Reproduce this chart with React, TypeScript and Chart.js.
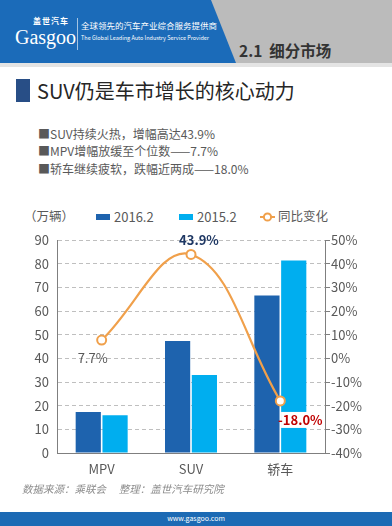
import React, { useEffect, useRef } from "react";
import { Chart, registerables } from "chart.js";

Chart.register(...registerables);

const categories = ["MPV", "SUV", "轿车"];
const sales2016 = [17.3, 47.3, 66.5];
const sales2015 = [16.0, 33.0, 81.3];
const yoyChange = [7.7, 43.9, -18.0];
const yoyLabels = ["7.7%", "43.9%", "-18.0%"];
const seriesNames = ["2016.2", "2015.2", "同比变化"];
const bullets = [
  "■SUV持续火热，增幅高达43.9%",
  "■MPV增幅放缓至个位数——7.7%",
  "■轿车继续疲软，跌幅近两成——18.0%",
];

const FONT = '"Noto Sans CJK SC", "Noto Sans", sans-serif';
const DARK = "#1E63AE";
const LIGHT = "#00AEEF";
const ORANGE = "#F0A04B";

const labelPlugin = {
  id: "yoyLabels",
  afterDatasetsDraw(chart: any) {
    const meta = chart.getDatasetMeta(2);
    const ctx = chart.ctx;
    const styles = [
      { dx: -9, dy: 18, color: "#595959", bold: false, bg: false },
      { dx: 8, dy: -14, color: "#1F3864", bold: true, bg: false },
      { dx: 20, dy: 19, color: "#C00000", bold: true, bg: true },
    ];
    meta.data.forEach((pt: any, i: number) => {
      const s = styles[i];
      const x = pt.x + s.dx;
      const y = pt.y + s.dy;
      ctx.save();
      ctx.font = `${s.bold ? "bold " : ""}13px ${FONT}`;
      ctx.textAlign = "center";
      ctx.textBaseline = "middle";
      const w = ctx.measureText(yoyLabels[i]).width;
      if (s.bg) {
        ctx.fillStyle = "#ffffff";
        ctx.fillRect(x - w / 2 + 3, y - 8, w - 2, 16);
      }
      ctx.fillStyle = s.color;
      ctx.fillText(yoyLabels[i], x, y);
      ctx.restore();
    });
  },
};

function ChartBox() {
  const ref = useRef<HTMLCanvasElement>(null);
  useEffect(() => {
    if (!ref.current) return;
    const chart = new Chart(ref.current, {
      type: "bar",
      data: {
        labels: categories,
        datasets: [
          {
            type: "bar",
            label: seriesNames[0],
            data: sales2016,
            backgroundColor: DARK,
            yAxisID: "y",
            order: 2,
            categoryPercentage: 0.6,
            barPercentage: 0.94,
          },
          {
            type: "bar",
            label: seriesNames[1],
            data: sales2015,
            backgroundColor: LIGHT,
            yAxisID: "y",
            order: 2,
            categoryPercentage: 0.6,
            barPercentage: 0.94,
          },
          {
            type: "line",
            label: seriesNames[2],
            data: yoyChange,
            borderColor: ORANGE,
            borderWidth: 2.2,
            tension: 0.4,
            pointRadius: 4.5,
            pointBorderWidth: 2,
            pointBackgroundColor: "#ffffff",
            pointBorderColor: ORANGE,
            yAxisID: "y1",
            order: 0,
          } as any,
        ],
      },
      options: {
        responsive: false,
        animation: false,
        devicePixelRatio: 1,
        layout: { padding: { top: 40, left: 0, right: 0, bottom: 0 } },
        plugins: { legend: { display: false }, tooltip: { enabled: false } },
        scales: {
          x: {
            grid: { display: false, drawTicks: false },
            border: { display: true, color: "#7F7F7F", width: 1 },
            ticks: { color: "#595959", font: { size: 13, family: FONT }, padding: 8 },
            afterFit: (s: any) => {
              s.height = 47;
            },
          },
          y: {
            position: "left",
            min: 0,
            max: 90,
            ticks: { stepSize: 10, color: "#595959", font: { size: 13, family: FONT }, padding: 8 },
            grid: { color: "#BFBFBF", drawTicks: false, lineWidth: 1 },
            border: { display: true, color: "#7F7F7F", dash: [4, 3] },
            afterFit: (s: any) => {
              s.width = 57;
            },
          },
          y1: {
            position: "right",
            min: -40,
            max: 50,
            ticks: {
              stepSize: 10,
              color: "#595959",
              font: { size: 13, family: FONT },
              padding: 1,
              callback: (v: any) => v + "%",
            },
            grid: { drawOnChartArea: false, drawTicks: true, tickLength: 5, color: "#7F7F7F" },
            border: { display: true, color: "#7F7F7F" },
            afterFit: (s: any) => {
              s.width = 67;
            },
          },
        },
      } as any,
      plugins: [labelPlugin],
    });
    return () => chart.destroy();
  }, []);
  return (
    <canvas
      ref={ref}
      width={392}
      height={300}
      style={{ position: "absolute", left: 0, top: 200, width: 392, height: 300 }}
    />
  );
}

export default function App() {
  const txt = (style: any, content: string) => (
    <div style={{ position: "absolute", whiteSpace: "pre", lineHeight: 1, ...style }}>{content}</div>
  );
  return (
    <div
      style={{
        position: "fixed",
        left: 0,
        top: 0,
        width: 392,
        height: 526,
        overflow: "hidden",
        background: "#ffffff",
        fontFamily: FONT,
      }}
    >
      {/* header */}
      <div style={{ position: "absolute", left: 0, top: 0, width: 392, height: 63, background: "#BBBBBB" }} />
      <svg width={392} height={63} style={{ position: "absolute", left: 0, top: 0 }}>
        <polygon points="0,0 211,0 236,63 0,63" fill="#1B6BB9" />
      </svg>
      <div style={{ position: "absolute", left: 0, top: 63, width: 392, height: 4, background: "#E4E4E4" }} />
      {txt({ left: 33, top: 17, fontSize: 8, color: "#fff", fontWeight: "bold", letterSpacing: 1 }, "盖世汽车")}
      {txt({ left: 15, top: 27, fontSize: 20, color: "#fff", fontFamily: '"Liberation Serif", serif' }, "Gasgoo")}
      <div style={{ position: "absolute", left: 77, top: 18, width: 1, height: 32, background: "rgba(255,255,255,0.6)" }} />
      {txt({ left: 81, top: 21, fontSize: 8.5, color: "#fff" }, "全球领先的汽车产业综合服务提供商")}
      {txt({ left: 81, top: 36, fontSize: 5.5, color: "#fff" }, "The Global Leading Auto Industry Service Provider")}
      {txt({ left: 239, top: 43, fontSize: 15.5, color: "#333333", fontWeight: "bold" }, "2.1  细分市场")}

      {/* title */}
      <div style={{ position: "absolute", left: 16, top: 79, width: 14, height: 23, background: "#284E86" }} />
      {txt({ left: 37, top: 81, fontSize: 20, color: "#262626" }, "SUV仍是车市增长的核心动力")}

      {bullets.map((b, i) =>
        <React.Fragment key={i}>
          {txt({ left: 38, top: 127.5 + i * 17.5, fontSize: 12, color: "#595959" }, b)}
        </React.Fragment>
      )}

      {/* legend */}
      {txt({ left: 24, top: 210, fontSize: 12.5, color: "#595959" }, "（万辆）")}
      <div style={{ position: "absolute", left: 96, top: 214, width: 14, height: 6, background: DARK }} />
      {txt({ left: 114, top: 210, fontSize: 13, color: "#595959" }, seriesNames[0])}
      <div style={{ position: "absolute", left: 179, top: 214, width: 14, height: 6, background: LIGHT }} />
      {txt({ left: 197, top: 210, fontSize: 13, color: "#595959" }, seriesNames[1])}
      <svg width={16} height={12} style={{ position: "absolute", left: 260, top: 211 }}>
        <line x1={0} y1={6} x2={15} y2={6} stroke={ORANGE} strokeWidth={2} />
        <circle cx={7.5} cy={6} r={3.6} fill="#fff" stroke={ORANGE} strokeWidth={2} />
      </svg>
      {txt({ left: 278, top: 210, fontSize: 12.5, color: "#595959" }, seriesNames[2])}

      <ChartBox />

      {/* source */}
      {txt(
        { left: 22, top: 484, fontSize: 10.5, color: "#8C8C8C", fontStyle: "italic" },
        "数据来源：乘联会　 整理：盖世汽车研究院"
      )}

      {/* footer */}
      <div style={{ position: "absolute", left: 0, top: 512, width: 392, height: 14, background: "#1C6AB4" }} />
      {txt({ left: 0, width: 392, top: 515, fontSize: 7, color: "#fff", textAlign: "center" }, "www.gasgoo.com")}
    </div>
  );
}
